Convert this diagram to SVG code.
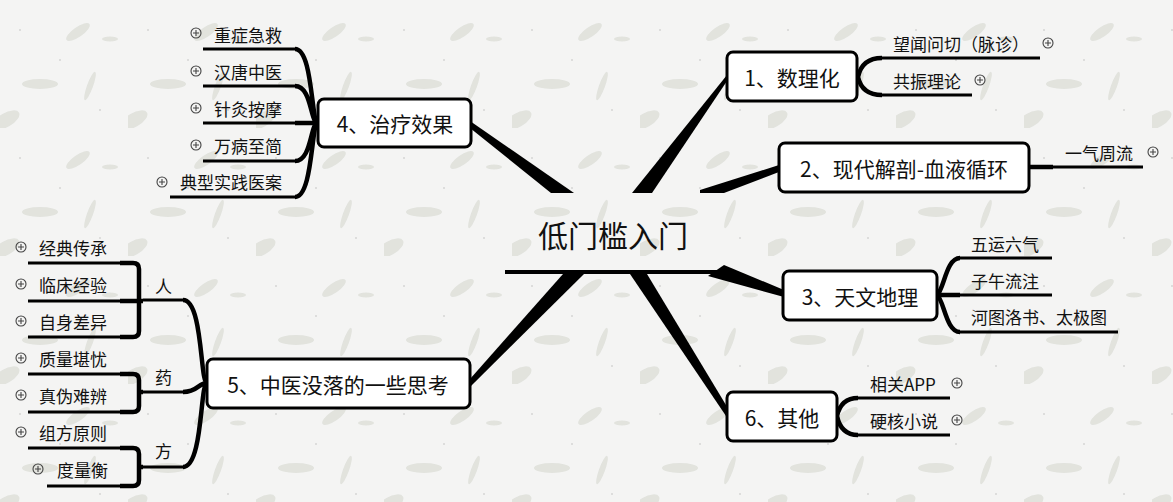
<svg xmlns="http://www.w3.org/2000/svg" width="1173" height="502" viewBox="0 0 1173 502">
<style>
.t{font-family:"Noto Sans CJK SC","Liberation Sans",sans-serif;fill:#111;dominant-baseline:central}
.main{font-size:30px;text-anchor:middle}
.nt{font-size:21px;text-anchor:middle}
.ct{font-size:17px}
.box{fill:#fff;stroke:#000;stroke-width:3}
.ln{fill:none;stroke:#000;stroke-width:3}
.cv{fill:none;stroke:#000;stroke-width:4.5;stroke-linecap:butt}
.wd{fill:#000}
.pl{fill:#d6d7cf;opacity:0.6}
</style>
<defs>
<pattern id="bg" width="128" height="128" patternUnits="userSpaceOnUse">
<rect width="128" height="128" fill="#f4f4f3"/>
<ellipse class="pl" cx="40" cy="84" rx="18" ry="5"/>
<ellipse class="pl" cx="78" cy="32" rx="14" ry="5" transform="rotate(-35 78 32)"/>
<ellipse class="pl" cx="6" cy="120" rx="15" ry="7" transform="rotate(-30 6 120)"/>
<ellipse class="pl" cx="90" cy="86" rx="15" ry="3" transform="rotate(-70 90 86)"/>
<ellipse class="pl" cx="110" cy="39" rx="8" ry="2.5"/>
<circle cx="60" cy="60" r="0.7" fill="#b5b5b5"/>
<circle cx="20" cy="30" r="0.7" fill="#b5b5b5"/>
<circle cx="100" cy="110" r="0.7" fill="#b5b5b5"/>
</pattern>
<g id="plus">
<circle r="5" fill="none" stroke="#444" stroke-width="1.1"/>
<path d="M-3,0H3M0,-3V3" stroke="#444" stroke-width="1.1"/>
</g>
</defs>
<rect width="1173" height="502" fill="url(#bg)"/>

<g id="connectors">
<polygon class="wd" points="470,121 470,128 551,193 574,193"/>
<polygon class="wd" points="727,75 727,81 652,193 632,193"/>
<polygon class="wd" points="779,165 779,172 724,193 700,193 700,190"/>
<polygon class="wd" points="708,276 724,265 784,290 784,297"/>
<polygon class="wd" points="630,274 647,274 729,410 726,416"/>
<polygon class="wd" points="563,274 584,274 470,387 470,379"/>
<line x1="505" y1="272" x2="725" y2="272" stroke="#000" stroke-width="4"/>

<path class="ln" d="M203,49H295M203,86H295M203,123H295M203,161H295M170,197H295"/>
<path class="cv" d="M295,49C313,49 311,123 318,123M295,86C312,86 310,123 318,123M295,123H318M295,161C312,161 310,123 318,123M295,197C313,197 311,123 318,123"/>

<path class="ln" d="M143,300H183M143,392H183M143,467H183"/>
<path class="cv" d="M183,300C203,300 200,383 207,383M183,392C198,392 198,383 207,383M183,467C203,467 200,383 207,383"/>
<path class="ln" d="M28,263H120M28,301H120M28,337H120M28,374H120M28,412H120M28,448H120M47,486H120"/>
<path class="cv" d="M120,263H133Q139,263 139,269V331Q139,337 133,337H120M120,301H143"/>
<path class="cv" d="M120,374H133Q139,374 139,380V406Q139,412 133,412H120M139,392H143"/>
<path class="cv" d="M120,448H133Q139,448 139,454V480Q139,486 133,486H120M139,467H143"/>

<path class="ln" d="M882,58H1040M882,95H972"/>
<path class="cv" d="M882,58Q862,58 858,77Q862,95 882,95"/>

<path class="ln" d="M1053,167H1143"/>
<path class="cv" d="M1030,167H1053"/>

<path class="ln" d="M960,258H1052M960,295H1052M960,332H1118"/>
<path class="cv" d="M960,258C946,258 944,290 937,295M960,332C946,332 944,300 937,295M937,295H960"/>

<path class="ln" d="M858,398H950M858,435H950"/>
<path class="cv" d="M858,398Q841,398 837,416Q841,435 858,435"/>
</g>

<g id="root">
<text class="t main" x="613" y="234">低门槛入门</text>
</g>

<g id="n1">
<rect class="box" x="727" y="52" width="130" height="49" rx="6"/>
<text class="t nt" x="792" y="77">1、数理化</text>
</g>
<g id="n1a"><text class="t ct" x="893" y="43">望闻问切（脉诊）</text><use href="#plus" x="1048" y="43"/></g>
<g id="n1b"><text class="t ct" x="893" y="80">共振理论</text><use href="#plus" x="980" y="80"/></g>

<g id="n2">
<rect class="box" x="779" y="143" width="250" height="49" rx="6"/>
<text class="t nt" x="904" y="168">2、现代解剖-血液循环</text>
</g>
<g id="n2a"><text class="t ct" x="1065" y="152">一气周流</text><use href="#plus" x="1153" y="152"/></g>

<g id="n3">
<rect class="box" x="783" y="271" width="154" height="49" rx="6"/>
<text class="t nt" x="860" y="296">3、天文地理</text>
</g>
<g id="n3a"><text class="t ct" x="971" y="243">五运六气</text></g>
<g id="n3b"><text class="t ct" x="971" y="280">子午流注</text></g>
<g id="n3c"><text class="t ct" x="971" y="316">河图洛书、太极图</text></g>

<g id="n4">
<rect class="box" x="318" y="99" width="153" height="48" rx="6"/>
<text class="t nt" x="395" y="123">4、治疗效果</text>
</g>
<g id="n4a"><text class="t ct" x="214" y="34">重症急救</text><use href="#plus" x="196" y="33"/></g>
<g id="n4b"><text class="t ct" x="214" y="71">汉唐中医</text><use href="#plus" x="196" y="71"/></g>
<g id="n4c"><text class="t ct" x="214" y="108">针灸按摩</text><use href="#plus" x="196" y="108"/></g>
<g id="n4d"><text class="t ct" x="214" y="145">万病至简</text><use href="#plus" x="196" y="145"/></g>
<g id="n4e"><text class="t ct" x="180" y="181">典型实践医案</text><use href="#plus" x="162" y="182"/></g>

<g id="n5">
<rect class="box" x="207" y="359" width="263" height="49" rx="6"/>
<text class="t nt" x="338" y="384">5、中医没落的一些思考</text>
</g>
<g id="n5r"><text class="t ct" x="155" y="285">人</text></g>
<g id="n5y"><text class="t ct" x="155" y="376">药</text></g>
<g id="n5f"><text class="t ct" x="155" y="450">方</text></g>
<g id="n5a"><text class="t ct" x="39" y="247">经典传承</text><use href="#plus" x="21" y="247"/></g>
<g id="n5b"><text class="t ct" x="39" y="284">临床经验</text><use href="#plus" x="21" y="284"/></g>
<g id="n5c"><text class="t ct" x="39" y="321">自身差异</text><use href="#plus" x="21" y="321"/></g>
<g id="n5d"><text class="t ct" x="39" y="358">质量堪忧</text><use href="#plus" x="21" y="358"/></g>
<g id="n5e"><text class="t ct" x="39" y="395">真伪难辨</text><use href="#plus" x="21" y="395"/></g>
<g id="n5g"><text class="t ct" x="39" y="432">组方原则</text><use href="#plus" x="21" y="432"/></g>
<g id="n5h"><text class="t ct" x="57" y="469">度量衡</text><use href="#plus" x="38" y="469"/></g>

<g id="n6">
<rect class="box" x="727" y="392" width="110" height="49" rx="6"/>
<text class="t nt" x="782" y="417">6、其他</text>
</g>
<g id="n6a"><text class="t ct" x="870" y="383">相关APP</text><use href="#plus" x="957" y="383"/></g>
<g id="n6b"><text class="t ct" x="870" y="420">硬核小说</text><use href="#plus" x="957" y="420"/></g>
</svg>
